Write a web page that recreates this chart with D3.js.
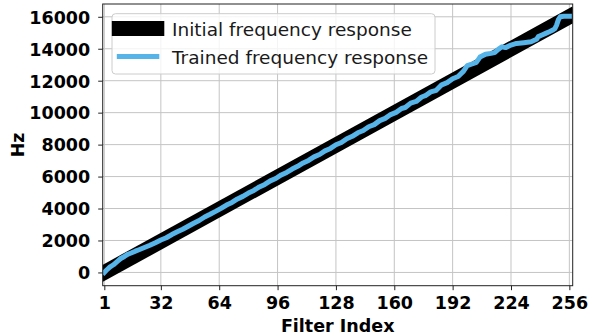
<!DOCTYPE html>
<html>
<head>
<meta charset="utf-8">
<script src="https://cdn.jsdelivr.net/npm/d3@7"></script>
<style>
  html, body { margin: 0; padding: 0; background: #fff; }
  svg { display: block; font-family: "DejaVu Sans", sans-serif; }
</style>
</head>
<body>
<svg id="chart" width="592" height="335"></svg>
<script>
// Filter index vs. centre frequency (Hz)
const initialIdx = [1, 256];
const initialHz = [0, 16000];

const trainedIdx = [1, 2, 4, 6, 8, 10, 12, 14, 16, 18, 20, 23, 26, 29, 32, 35, 38, 41, 44, 47, 50,
  53, 56, 59, 62, 65, 68, 71, 74, 77, 80, 83, 86, 89, 92, 95, 98, 101, 104, 107, 110,
  113, 116, 119, 122, 125, 128, 131, 134, 137, 140, 143, 146, 149, 152, 155, 158, 161,
  164, 166, 169, 172, 175, 177, 180, 183, 186, 189, 192, 195, 198, 200, 203, 205, 207,
  210, 213, 215, 217, 219, 221, 224, 227, 231, 235, 238, 239, 241, 243, 245, 247, 248,
  249, 250, 251, 253, 256];
const trainedHz = [0, 120, 330, 480, 680, 870, 1000, 1140, 1230, 1330, 1420, 1560, 1700, 1860,
  2030, 2170, 2370, 2540, 2700, 2890, 3080, 3250, 3470, 3640, 3820, 4010, 4220, 4380, 4600,
  4760, 4970, 5130, 5350, 5510, 5730, 5880, 6100, 6260, 6470, 6640, 6850, 7010, 7230, 7380,
  7610, 7760, 7990, 8130, 8370, 8520, 8740, 8880, 9120, 9250, 9500, 9640, 9880, 10020,
  10260, 10320, 10600, 10700, 10980, 11060, 11300, 11400, 11740, 11880, 12120, 12260,
  12600, 12940, 13060, 13150, 13480, 13660, 13710, 13760, 13960, 14120, 14070, 14230,
  14330, 14380, 14440, 14590, 14760, 14860, 14960, 15060, 15170, 15250, 15480, 15820,
  16000, 16030, 16030];

const xTicks = [1, 32, 64, 96, 128, 160, 192, 224, 256];
const yTicks = [0, 2000, 4000, 6000, 8000, 10000, 12000, 14000, 16000];
const legendLabels = ["Initial frequency response", "Trained frequency response"];

const svg = d3.select("#chart");
const plotLeft = 102.7, plotRight = 572.7, plotTop = 4, plotBottom = 285.7;

const x = d3.scaleLinear().domain([0, 258]).range([102.5, 573]);
const y = d3.scaleLinear().domain([-830, 16800]).range([plotBottom, plotTop]);

// grid
const grid = svg.append("g").attr("stroke", "#c4c4c4").attr("stroke-width", 1);
grid.selectAll("line.vx").data(xTicks).join("line")
  .attr("x1", d => x(d)).attr("x2", d => x(d))
  .attr("y1", plotTop).attr("y2", plotBottom);
grid.selectAll("line.hy").data(yTicks).join("line")
  .attr("x1", plotLeft).attr("x2", plotRight)
  .attr("y1", d => y(d)).attr("y2", d => y(d));

svg.append("defs").append("clipPath").attr("id", "plotClip")
  .append("rect").attr("x", plotLeft).attr("y", plotTop)
  .attr("width", plotRight - plotLeft).attr("height", plotBottom - plotTop);

const plot = svg.append("g").attr("clip-path", "url(#plotClip)");
const line = d3.line().x(d => x(d[0])).y(d => y(d[1]));

plot.append("path")
  .datum(d3.zip(initialIdx, initialHz))
  .attr("d", line)
  .attr("fill", "none").attr("stroke", "#000")
  .attr("stroke-width", 15).attr("stroke-linecap", "square");

plot.append("path")
  .datum(d3.zip(trainedIdx, trainedHz))
  .attr("d", line)
  .attr("fill", "none").attr("stroke", "#56B4E9")
  .attr("stroke-width", 5).attr("stroke-linecap", "square")
  .attr("stroke-linejoin", "round");

// axes
const xAxis = d3.axisBottom(x).tickValues(xTicks).tickFormat(d3.format("d"))
  .tickSize(4.5).tickPadding(6);
const yAxis = d3.axisLeft(y).tickValues(yTicks).tickFormat(d3.format("d"))
  .tickSize(4.5).tickPadding(8);

const gx = svg.append("g").attr("transform", `translate(0,${plotBottom})`).call(xAxis);
const gy = svg.append("g").attr("transform", `translate(${plotLeft},0)`).call(yAxis);
[gx, gy].forEach(g => {
  g.select(".domain").remove();
  g.selectAll(".tick line").attr("stroke", "#222").attr("stroke-width", 1);
  g.selectAll(".tick text")
    .attr("fill", "#000")
    .attr("font-family", "DejaVu Sans")
    .attr("font-weight", "bold")
    .attr("font-size", 17.5);
});
gx.selectAll(".tick text").attr("dy", "0.71em").attr("y", 11);
gy.selectAll(".tick text").attr("dy", "0.36em");

// frame
svg.append("rect")
  .attr("x", plotLeft).attr("y", plotTop)
  .attr("width", plotRight - plotLeft).attr("height", plotBottom - plotTop)
  .attr("fill", "none").attr("stroke", "#222").attr("stroke-width", 1);

// axis titles
svg.append("text")
  .attr("x", (plotLeft + plotRight) / 2).attr("y", 331.5)
  .attr("text-anchor", "middle")
  .attr("font-weight", "bold").attr("font-size", 17.5)
  .text("Filter Index");

svg.append("text")
  .attr("transform", `translate(23.5,${(plotTop + plotBottom) / 2}) rotate(-90)`)
  .attr("text-anchor", "middle")
  .attr("font-weight", "bold").attr("font-size", 17.5)
  .text("Hz");

// legend
const lg = svg.append("g");
lg.append("rect")
  .attr("x", 112).attr("y", 13.7)
  .attr("width", 323).attr("height", 60.3)
  .attr("rx", 3.5).attr("ry", 3.5)
  .attr("fill", "rgba(255,255,255,0.8)")
  .attr("stroke", "#cccccc").attr("stroke-width", 1);

const legendStyles = [
  { color: "#000", width: 15, cy: 28.5 },
  { color: "#56B4E9", width: 5, cy: 56.5 }
];
legendStyles.forEach((s, i) => {
  lg.append("line")
    .attr("x1", 119.3).attr("x2", 156.8)
    .attr("y1", s.cy).attr("y2", s.cy)
    .attr("stroke", s.color).attr("stroke-width", s.width)
    .attr("stroke-linecap", "square");
  lg.append("text")
    .attr("x", 172).attr("y", s.cy + 7)
    .attr("font-size", 18.5).attr("fill", "#1a1a1a")
    .text(legendLabels[i]);
});
</script>
</body>
</html>
